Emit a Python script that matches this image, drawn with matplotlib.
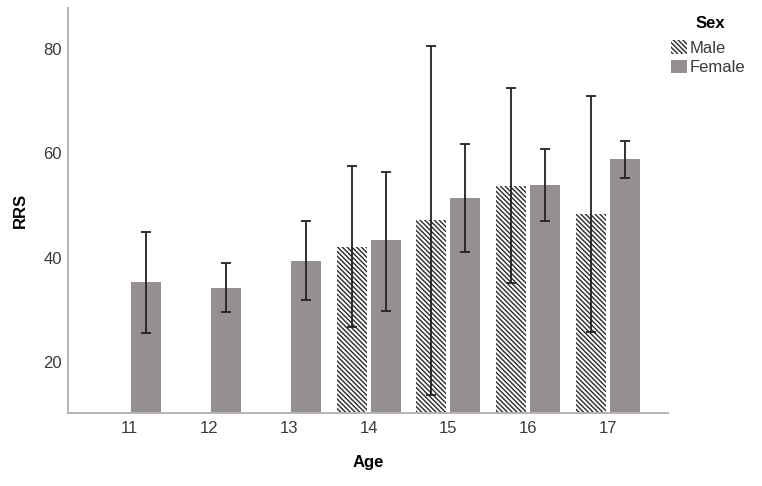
import numpy as np
import matplotlib
matplotlib.use("Agg")
import matplotlib.pyplot as plt
from matplotlib.patches import Patch

ages = ["11", "12", "13", "14", "15", "16", "17"]
male_mean = [np.nan, np.nan, np.nan, 42.0, 47.2, 53.7, 48.4]
male_lo = [np.nan, np.nan, np.nan, 26.7, 13.7, 35.1, 25.8]
male_hi = [np.nan, np.nan, np.nan, 57.6, 80.6, 72.5, 71.1]
female_mean = [35.3, 34.2, 39.4, 43.3, 51.4, 54.0, 58.9]
female_lo = [25.6, 29.6, 31.9, 29.8, 41.0, 47.0, 55.2]
female_hi = [44.9, 38.9, 47.0, 56.5, 61.9, 60.8, 62.4]
yticks = [20, 40, 60, 80]

plt.rcParams['font.family'] = ['Liberation Sans', 'DejaVu Sans']
plt.rcParams['hatch.linewidth'] = 1.0

fig = plt.figure(figsize=(7.62, 4.86), dpi=100)
ax = fig.add_axes([68/762, 73/486, 600/762, 405/486])

x = np.arange(len(ages))
w = 0.376
off = 0.213
fem_col = '#958f8f'
txt_col = '#3a3a3a'
hatch = '\\\\\\\\\\\\\\'

mm = np.array(male_mean)
mask = ~np.isnan(mm)
ax.bar(x[mask] - off, mm[mask], width=w, color='white', edgecolor='#2a2a2a',
       linewidth=0, hatch=hatch, zorder=2)
ax.bar(x + off, female_mean, width=w, color=fem_col, linewidth=0, zorder=2)

mlo = np.array(male_lo); mhi = np.array(male_hi)
ax.errorbar(x[mask] - off, mm[mask],
            yerr=[mm[mask] - mlo[mask], mhi[mask] - mm[mask]],
            fmt='none', ecolor='#222222', elinewidth=1.3, capsize=3.3, capthick=1.3, zorder=3)
fm = np.array(female_mean)
ax.errorbar(x + off, fm, yerr=[fm - np.array(female_lo), np.array(female_hi) - fm],
            fmt='none', ecolor='#222222', elinewidth=1.3, capsize=3.3, capthick=1.3, zorder=3)

ax.set_xlim(-0.764, 6.75)
ax.set_ylim(10.2, 87.9)
ax.set_xticks(x)
ax.set_xticklabels(ages)
ax.set_yticks(yticks)
ax.tick_params(length=0, labelsize=12, colors=txt_col)
ax.tick_params(axis='y', pad=4.5)
ax.tick_params(axis='x', pad=5.5)
for s in ['top', 'right']:
    ax.spines[s].set_visible(False)
for s in ['left', 'bottom']:
    ax.spines[s].set_color('#b3b3b3')
    ax.spines[s].set_linewidth(1.4)

ax.set_xlabel('Age', fontsize=12, fontweight='bold', labelpad=14)
ax.set_ylabel('RRS', fontsize=12, fontweight='bold', labelpad=11)

fig.text(710/762, 1 - 23/486, 'Sex', ha='center', va='center',
         fontsize=12, fontweight='bold', color='black')
handles = [Patch(facecolor='white', edgecolor='#2a2a2a', linewidth=0, hatch=hatch),
           Patch(facecolor=fem_col, linewidth=0)]
leg = fig.legend(handles, ['Male', 'Female'], loc='upper left',
                 bbox_to_anchor=(671/762, 1 - 40/486), frameon=False, fontsize=12,
                 handlelength=0.95, handleheight=0.88, handletextpad=0.18,
                 labelspacing=0.25, borderaxespad=0, borderpad=0)
for t in leg.get_texts():
    t.set_color(txt_col)

fig.savefig('out.png', dpi=100)
